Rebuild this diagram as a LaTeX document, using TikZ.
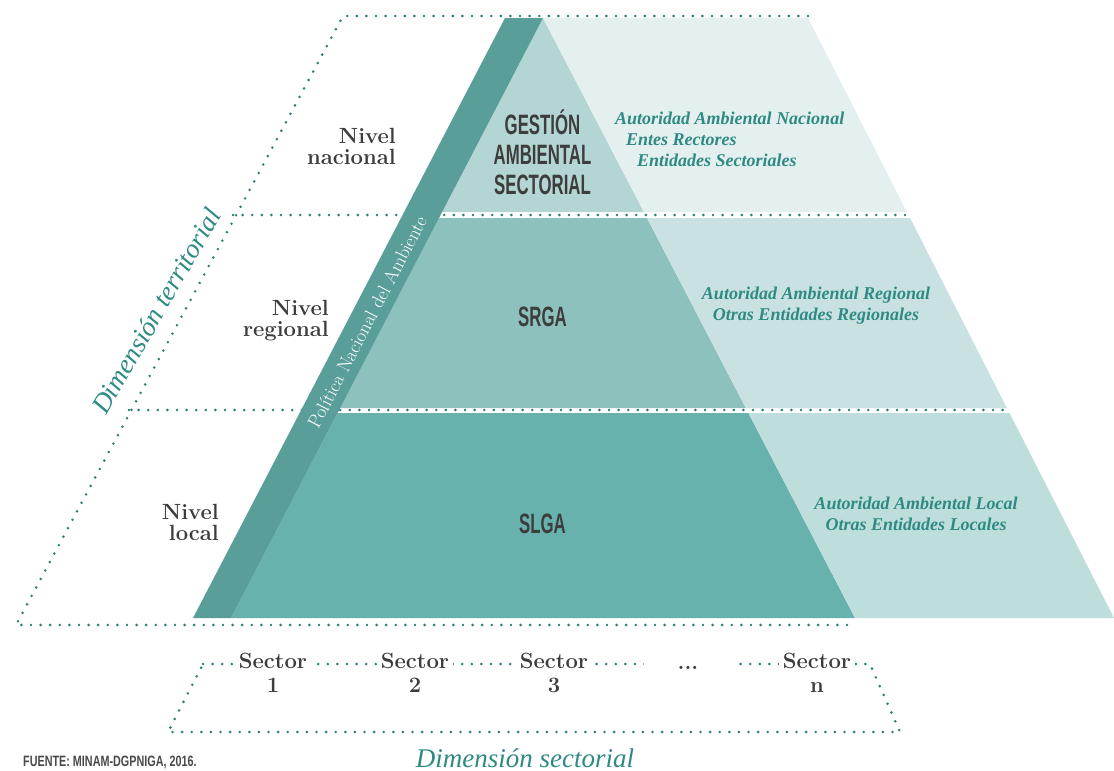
\documentclass[tikz,border=0pt]{standalone}
\usepackage{fontspec}
\newfontfamily\condfont{Liberation Sans}[FakeStretch=0.6]
\newfontfamily\fuentefont{Liberation Sans}[FakeStretch=0.72]
\newfontfamily\itserif{Liberation Serif}
\definecolor{bandc}{HTML}{5A9E9A}
\definecolor{tAin}{HTML}{B3D5D3}
\definecolor{tAout}{HTML}{E4F0EF}
\definecolor{tBin}{HTML}{8DC1BE}
\definecolor{tBout}{HTML}{C9E2E1}
\definecolor{tCin}{HTML}{68B2AE}
\definecolor{tCout}{HTML}{BEDEDC}
\definecolor{dotc}{HTML}{2C7F7A}
\definecolor{tealtxt}{HTML}{2E8A83}
\definecolor{darktxt}{HTML}{3D3D3D}
\definecolor{fuentec}{HTML}{4A4A4A}
\begin{document}
\begin{tikzpicture}[x=1pt,y=-1pt,
  dotline/.style={draw=dotc, line width=2.9pt, line cap=round, dash pattern=on 0pt off 9.6pt},
  lvl/.style={font=\fontsize{22}{21}\selectfont\bfseries, text=darktxt, align=right, inner sep=0pt, anchor=north east},
  gest/.style={font=\condfont\bfseries\fontsize{28}{30}\selectfont, text=darktxt, align=center, inner sep=0pt},
  rtxt/.style={font=\itserif\bfseries\itshape\fontsize{18}{21}\selectfont, text=tealtxt, inner sep=0pt},
  sect/.style={font=\fontsize{22}{24}\selectfont\bfseries, text=darktxt, align=center, fill=white, inner xsep=4pt, inner ysep=0pt, anchor=north},
  dimtxt/.style={font=\itserif\itshape\fontsize{27}{30}\selectfont, text=tealtxt, inner sep=0pt}]
\useasboundingbox (0,0) rectangle (1114,771);
\fill[white] (0,0) rectangle (1114,771);
% tiers
\fill[tAin] (543,18) -- (643.9,212) -- (442.1,212) -- cycle;
\fill[tAout] (543,18) -- (808,18) -- (906.9,212) -- (643.9,212) -- cycle;
\fill[tBin] (439,218) -- (647,218) -- (745.8,408) -- (340.2,408) -- cycle;
\fill[tBout] (647,218) -- (910,218) -- (1006.9,408) -- (745.8,408) -- cycle;
\fill[tCin] (337.6,413) -- (748.4,413) -- (855,618) -- (231,618) -- cycle;
\fill[tCout] (748.4,413) -- (1009.5,413) -- (1114,618) -- (855,618) -- cycle;
% dotted frame
\coordinate (tr) at (808,16);
\coordinate (tl) at (343,16);
\coordinate (bl) at (16,625);
\coordinate (br) at (852,625);
\draw[dotline] (tr) -- (tl) -- (bl) -- (br);
\coordinate (d1a) at (233,215);
\coordinate (d1b) at (909,215);
\coordinate (d2a) at (129,410);
\coordinate (d2b) at (1008,410);
\draw[dotline] (d1a) -- (d1b);
\draw[dotline] (d2a) -- (d2b);
% band
\fill[bandc] (505,18) -- (543,18) -- (231,618) -- (193,618) -- cycle;
\node[font=\fontsize{19}{19}\selectfont, text=white, rotate=62.5, inner sep=0pt] (pna) at (367,322) {Política Nacional del Ambiente};
% level labels
\node[lvl] (nnac) at (396,127.7) {Nivel\\nacional};
\node[lvl] (nreg) at (329,299.7) {Nivel\\regional};
\node[lvl] (nloc) at (219,503.7) {Nivel\\local};
% central labels
\node[gest] (gas) at (542.5,152) {GESTIÓN\\AMBIENTAL\\SECTORIAL};
\node[gest] (srga) at (542.5,317) {SRGA};
\node[gest] (slga) at (542.5,524) {SLGA};
% right texts
\node[rtxt, align=left, anchor=north west] (rnac) at (615,112) {Autoridad Ambiental Nacional\\\hspace*{11pt}Entes Rectores\\\hspace*{22pt}Entidades Sectoriales};
\node[rtxt, align=center, anchor=north] (rreg) at (816,286.5) {Autoridad Ambiental Regional\\Otras Entidades Regionales};
\node[rtxt, align=center, anchor=north] (rloc) at (916,497) {Autoridad Ambiental Local\\Otras Entidades Locales};
% territorial
\node[dimtxt, rotate=60] (dimt) at (156,311) {Dimensión territorial};
% sector frame
\coordinate (sa) at (203,664);
\coordinate (sb) at (870,664);
\coordinate (sc) at (900,732);
\coordinate (sd) at (168,732);
\draw[dotline] (sa) -- (sb) -- (sc) -- (sd) -- cycle;
\node[sect] (s1) at (273,653) {Sector\\1};
\node[sect] (s2) at (415,653) {Sector\\2};
\node[sect] (s3) at (554,653) {Sector\\3};
\node[sect, minimum width=88pt, inner ysep=5pt, anchor=base] (sdots) at (688,669) {...};
\node[sect] (sn) at (817,653) {Sector\\n};
\node[dimtxt] (dims) at (525,758) {Dimensión sectorial};
\node[font=\fuentefont\bfseries\fontsize{15}{15}\selectfont, text=fuentec, anchor=base west, inner sep=0pt] (fuente) at (23,766) {FUENTE: MINAM-DGPNIGA, 2016.};
\end{tikzpicture}
\end{document}
